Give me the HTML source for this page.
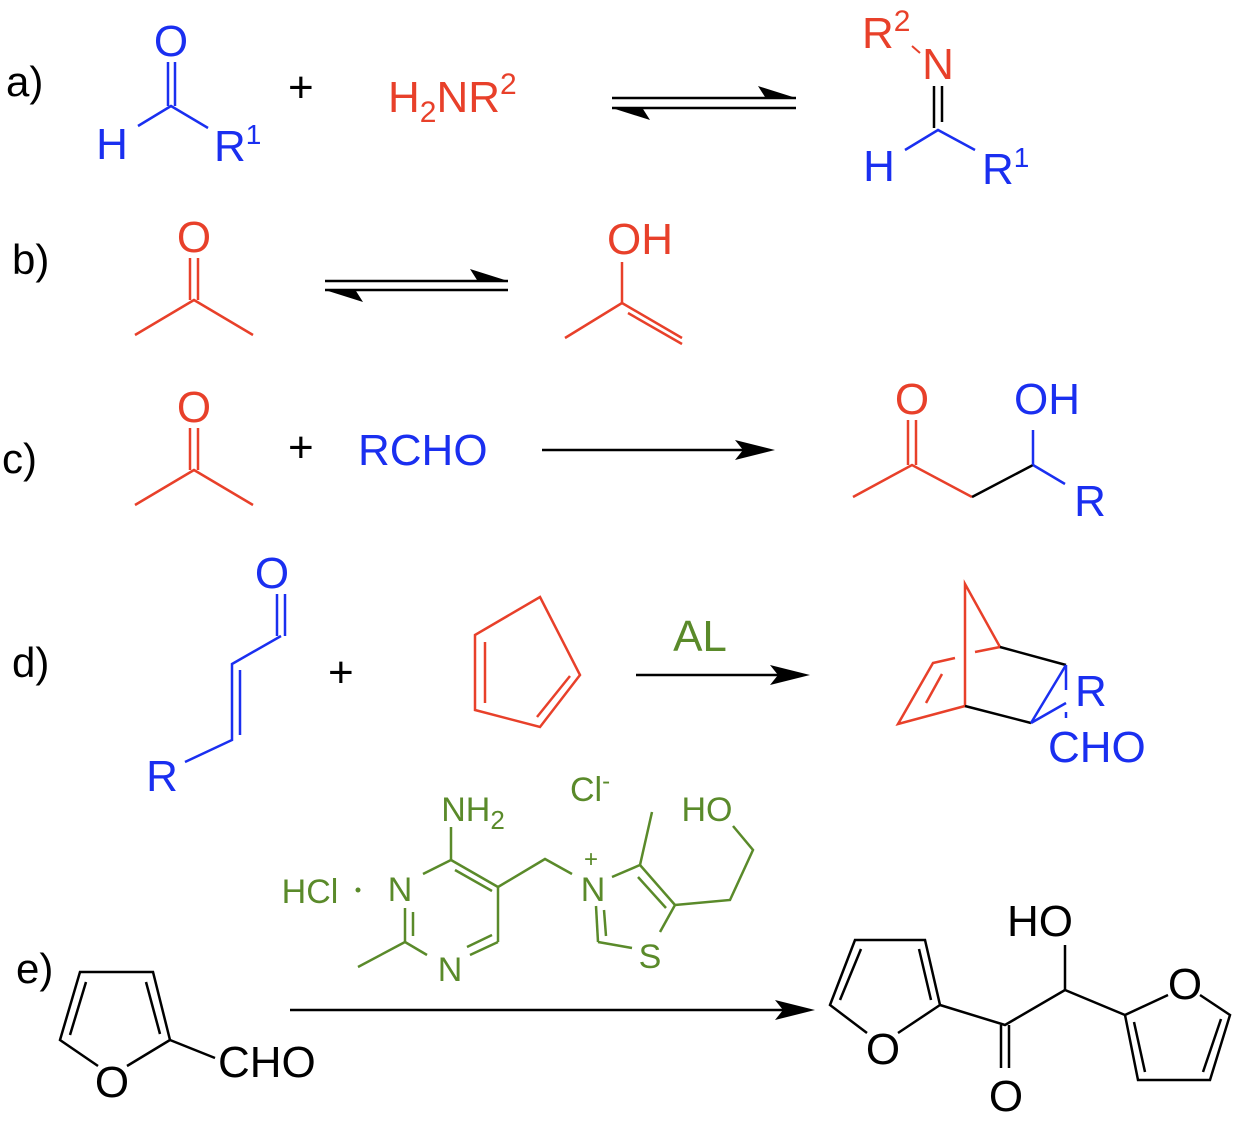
<!DOCTYPE html>
<html><head><meta charset="utf-8"><style>
html,body{margin:0;padding:0;background:#fff;}
svg{display:block;}
text{font-family:"Liberation Sans",Arial,sans-serif;}
</style></head><body>
<svg width="1246" height="1122" viewBox="0 0 1246 1122" xmlns="http://www.w3.org/2000/svg">
<g font-size="44">
<!-- labels -->
<text x="6" y="96" fill="#000" font-size="42">a)</text>
<text x="12" y="274" fill="#000" font-size="42">b)</text>
<text x="2" y="473" fill="#000" font-size="42">c)</text>
<text x="12" y="677" fill="#000" font-size="42">d)</text>
<text x="16" y="983" fill="#000" font-size="42">e)</text>

<!-- a) -->
<g stroke="#1a2ff0" stroke-width="2.5" fill="none">
<line x1="168" y1="62" x2="168" y2="106"/><line x1="175" y1="62" x2="175" y2="106"/>
<polyline points="138,126 171,106 208,128"/>
<polyline points="905,150 938,130 975,150"/>
</g>
<text x="171" y="56" fill="#1a2ff0" text-anchor="middle">O</text>
<text x="112" y="159" fill="#1a2ff0" text-anchor="middle">H</text>
<text x="214" y="161" fill="#1a2ff0">R<tspan font-size="28" dy="-17">1</tspan></text>
<text x="288" y="102" fill="#000">+</text>
<text x="388" y="112" fill="#e8402a">H<tspan font-size="30" dy="10">2</tspan><tspan dy="-10">NR</tspan><tspan font-size="30" dy="-18">2</tspan></text>
<g stroke="#000" stroke-width="2.5" fill="none">
<line x1="612" y1="98" x2="796" y2="98"/>
<line x1="612" y1="108" x2="796" y2="108"/>
</g>
<polygon points="796,98 758,86 765,97 758,98" fill="#000"/>
<polygon points="612,108 650,120 643,109 650,108" fill="#000"/>
<text x="862" y="48" fill="#e8402a">R<tspan font-size="30" dy="-17">2</tspan></text>
<line x1="912" y1="46" x2="920" y2="53" stroke="#e8402a" stroke-width="2"/>
<text x="938" y="79" fill="#e8402a" text-anchor="middle">N</text>
<g stroke="#000" stroke-width="2.5"><line x1="934" y1="86" x2="934" y2="128"/><line x1="942" y1="86" x2="942" y2="122"/></g>
<text x="879" y="181" fill="#1a2ff0" text-anchor="middle">H</text>
<text x="982" y="184" fill="#1a2ff0">R<tspan font-size="28" dy="-17">1</tspan></text>

<!-- b) -->
<g stroke="#e8402a" stroke-width="2.5" fill="none">
<polyline points="135,335 194,300 253,335"/>
<line x1="190" y1="258" x2="190" y2="300"/><line x1="198" y1="258" x2="198" y2="300"/>
<polyline points="565,338 622,303 682,338"/>
<line x1="622" y1="262" x2="622" y2="303"/>
<line x1="628" y1="313" x2="682" y2="344"/>
</g>
<text x="194" y="252" fill="#e8402a" text-anchor="middle">O</text>
<text x="640" y="254" fill="#e8402a" text-anchor="middle">OH</text>
<g stroke="#000" stroke-width="2.5" fill="none">
<line x1="325" y1="281" x2="508" y2="281"/>
<line x1="325" y1="290" x2="508" y2="290"/>
</g>
<polygon points="508,281 470,269 477,280 470,281" fill="#000"/>
<polygon points="325,290 363,302 356,291 363,290" fill="#000"/>

<!-- c) -->
<g stroke="#e8402a" stroke-width="2.5" fill="none">
<polyline points="135,505 194,470 253,505"/>
<line x1="190" y1="428" x2="190" y2="470"/><line x1="198" y1="428" x2="198" y2="470"/>
<polyline points="853,497 912,465 972,497"/>
<line x1="908" y1="420" x2="908" y2="465"/><line x1="916" y1="420" x2="916" y2="465"/>
</g>
<text x="194" y="422" fill="#e8402a" text-anchor="middle">O</text>
<text x="288" y="462" fill="#000">+</text>
<text x="358" y="465" fill="#1a2ff0">RCHO</text>
<line x1="542" y1="450" x2="750" y2="450" stroke="#000" stroke-width="2.5"/>
<polygon points="775,450 735,440 743,450 735,460" fill="#000"/>
<text x="912" y="414" fill="#e8402a" text-anchor="middle">O</text>
<polyline points="972,497 1033,465" stroke="#000" stroke-width="2.5" fill="none"/>
<line x1="1033" y1="465" x2="1033" y2="430" stroke="#1a2ff0" stroke-width="2.5"/>
<line x1="1033" y1="465" x2="1065" y2="484" stroke="#1a2ff0" stroke-width="2.5"/>
<text x="1047" y="414" fill="#1a2ff0" text-anchor="middle">OH</text>
<text x="1090" y="516" fill="#1a2ff0" text-anchor="middle">R</text>

<!-- d) -->
<g stroke="#1a2ff0" stroke-width="2.5" fill="none">
<line x1="277" y1="594" x2="277" y2="636"/><line x1="285" y1="594" x2="285" y2="636"/>
<polyline points="281,636 232,664 232,740 185,762"/>
<line x1="240" y1="670" x2="240" y2="735"/>
</g>
<text x="272" y="588" fill="#1a2ff0" text-anchor="middle">O</text>
<text x="162" y="791" fill="#1a2ff0" text-anchor="middle">R</text>
<text x="328" y="687" fill="#000">+</text>
<g stroke="#e8402a" stroke-width="2.5" fill="none">
<polygon points="540,597 580,675 540,727 475,710 475,635"/>
<line x1="485" y1="642" x2="485" y2="703"/>
<line x1="570" y1="676" x2="537" y2="717"/>
</g>
<text x="700" y="651" fill="#5a8a2a" text-anchor="middle">AL</text>
<line x1="636" y1="675" x2="785" y2="675" stroke="#000" stroke-width="2.5"/>
<polygon points="810,675 770,665 778,675 770,685" fill="#000"/>
<g stroke="#e8402a" stroke-width="2.5" fill="none">
<polyline points="1000,647 965,584 965,706 898,724 933,663 955,658"/>
<line x1="975" y1="652" x2="1000" y2="647"/>
<line x1="942" y1="674" x2="926" y2="703"/>
</g>
<g stroke="#000" stroke-width="2.5" fill="none"><polyline points="1000,647 1066,665"/><polyline points="965,706 1031,723"/></g>
<g stroke="#1a2ff0" stroke-width="2.5" fill="none">
<line x1="1066" y1="665" x2="1031" y2="723"/>
<line x1="1031" y1="723" x2="1066" y2="703"/>
<line x1="1066" y1="665" x2="1066" y2="690"/>
<line x1="1066" y1="712" x2="1066" y2="718"/>
</g>
<text x="1075" y="706" fill="#1a2ff0">R</text>
<text x="1048" y="762" fill="#1a2ff0">CHO</text>

<!-- e) thiamine -->
<g fill="#5a8a2a" font-size="34">
<text x="473" y="821" text-anchor="middle">NH<tspan font-size="26" dy="8">2</tspan></text>
<text x="310" y="903" text-anchor="middle">HCl</text>
<text x="400" y="901" text-anchor="middle">N</text>
<text x="450" y="981" text-anchor="middle">N</text>
<text x="593" y="901" text-anchor="middle">N</text>
<text x="591" y="867" text-anchor="middle" font-size="24">+</text>
<text x="650" y="968" text-anchor="middle">S</text>
<text x="707" y="821" text-anchor="middle">HO</text>
<text x="570" y="801">Cl<tspan font-size="24" dy="-12">-</tspan></text>
<circle cx="358" cy="890" r="2.5"/>
</g>
<g stroke="#5a8a2a" stroke-width="2.5" fill="none">
<line x1="451" y1="827" x2="451" y2="860"/>
<line x1="451" y1="860" x2="423" y2="874"/>
<line x1="451" y1="860" x2="498" y2="887"/><line x1="455" y1="870" x2="492" y2="891"/>
<line x1="498" y1="887" x2="498" y2="942"/>
<line x1="498" y1="942" x2="470" y2="955"/><line x1="492" y1="935" x2="467" y2="947"/>
<line x1="427" y1="955" x2="405" y2="942"/>
<line x1="405" y1="942" x2="358" y2="967"/>
<line x1="405" y1="942" x2="405" y2="908"/><line x1="413" y1="936" x2="413" y2="912"/>
<polyline points="498,887 545,859 572,874"/>
<line x1="612" y1="877" x2="640" y2="865"/>
<line x1="640" y1="865" x2="652" y2="812"/>
<line x1="640" y1="865" x2="675" y2="905"/><line x1="638" y1="877" x2="666" y2="908"/>
<line x1="675" y1="905" x2="660" y2="932"/>
<line x1="598" y1="942" x2="632" y2="948"/>
<line x1="596" y1="906" x2="598" y2="942"/><line x1="604" y1="910" x2="606" y2="936"/>
<polyline points="675,905 730,900 753,850 733,826"/>
</g>

<!-- e) furfural -->
<g stroke="#000" stroke-width="2.5" fill="none">
<polyline points="98,1066 60,1040 80,972 153,972 170,1040 127,1066"/>
<line x1="70" y1="1035" x2="86" y2="982"/>
<line x1="146" y1="982" x2="160" y2="1034"/>
<line x1="170" y1="1040" x2="215" y2="1058"/>
</g>
<text x="112" y="1097" fill="#000" text-anchor="middle">O</text>
<text x="218" y="1077" fill="#000">CHO</text>
<line x1="290" y1="1010" x2="790" y2="1010" stroke="#000" stroke-width="2.5"/>
<polygon points="815,1010 775,1000 783,1010 775,1020" fill="#000"/>

<!-- product -->
<g stroke="#000" stroke-width="2.5" fill="none">
<polyline points="867,1033 830,1005 855,940 925,940 940,1005 898,1033"/>
<line x1="840" y1="1000" x2="861" y2="949"/>
<line x1="919" y1="949" x2="931" y2="1000"/>
<polyline points="940,1005 1005,1025 1065,990 1125,1015"/>
<line x1="1001" y1="1025" x2="1001" y2="1068"/><line x1="1009" y1="1025" x2="1009" y2="1068"/>
<line x1="1065" y1="990" x2="1065" y2="945"/>
<polyline points="1168,995 1125,1015 1138,1080 1210,1080 1230,1015 1200,995"/>
<line x1="1134" y1="1022" x2="1145" y2="1072"/>
<line x1="1203" y1="1072" x2="1221" y2="1019"/>
</g>
<text x="883" y="1064" fill="#000" text-anchor="middle">O</text>
<text x="1006" y="1111" fill="#000" text-anchor="middle">O</text>
<text x="1040" y="936" fill="#000" text-anchor="middle">HO</text>
<text x="1185" y="999" fill="#000" text-anchor="middle">O</text>
</g>
</svg>
</body></html>
